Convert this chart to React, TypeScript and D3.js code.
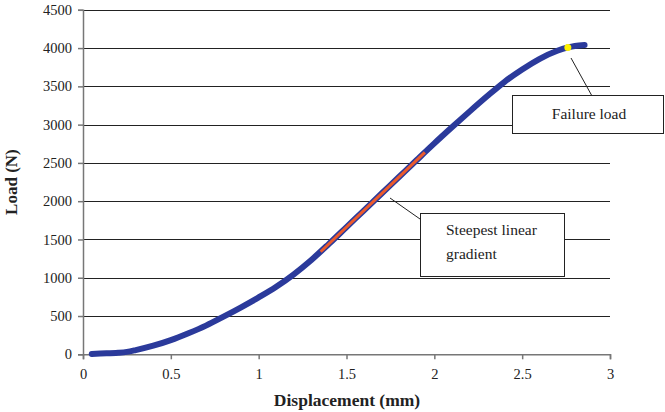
import React, { useEffect, useRef } from "react";
import * as d3 from "d3";

// displacement (mm) and load (N)
const displacement = [0.05, 0.1, 0.2, 0.25, 0.3, 0.4, 0.5, 0.6, 0.7, 0.8, 0.9, 1.0, 1.1, 1.2, 1.3, 1.4, 1.5, 1.6, 1.7, 1.8, 1.9, 2.0, 2.1, 2.2, 2.3, 2.4, 2.5, 2.6, 2.7, 2.76, 2.8, 2.855];
const load = [5, 10, 20, 32, 55, 112, 185, 275, 375, 492, 614, 743, 882, 1045, 1232, 1443, 1662, 1881, 2100, 2319, 2538, 2755, 2965, 3170, 3370, 3560, 3720, 3860, 3965, 4008, 4028, 4040];

// steepest linear section (start, end)
const gradientX = [1.353, 1.946];
const gradientY = [1340, 2638];

const failureX = 2.76;
const failureY = 4008;

const xTicks = [0, 0.5, 1, 1.5, 2, 2.5, 3];
const yTicks = [0, 500, 1000, 1500, 2000, 2500, 3000, 3500, 4000, 4500];

const App = () => {
  const svgRef = useRef<SVGSVGElement>(null);

  useEffect(() => {
    const svg = d3.select(svgRef.current);
    svg.selectAll("*").remove();

    const left = 83;
    const right = 610;
    const top = 9.8;
    const bottom = 354.3;
    const font = "'Times New Roman', 'Liberation Serif', serif";

    const x = d3.scaleLinear().domain([0, 3]).range([left, right]);
    const y = d3.scaleLinear().domain([0, 4500]).range([bottom, top]);

    // horizontal grid lines
    svg
      .append("g")
      .selectAll("line")
      .data(yTicks.slice(1))
      .join("line")
      .attr("x1", left)
      .attr("x2", right)
      .attr("y1", (d) => Math.round(y(d)) + 0.5)
      .attr("y2", (d) => Math.round(y(d)) + 0.5)
      .attr("stroke", "#222")
      .attr("stroke-width", 1.2);

    // y axis
    const yAxis = svg
      .append("g")
      .attr("transform", `translate(${left},0)`)
      .call(d3.axisLeft(y).tickValues(yTicks).tickSize(5).tickPadding(6).tickFormat(d3.format("d")));
    yAxis.attr("font-family", font);
    yAxis.select(".domain").attr("stroke", "#777").attr("stroke-width", 1.5);
    yAxis.selectAll(".tick line").attr("stroke", "#777").attr("stroke-width", 1.5);
    yAxis.selectAll(".tick text").attr("font-size", 14.5).attr("fill", "#222");

    // x axis
    const xAxis = svg
      .append("g")
      .attr("transform", `translate(0,${bottom})`)
      .call(d3.axisBottom(x).tickValues(xTicks).tickSize(5).tickPadding(9).tickFormat((d) => String(d)));
    xAxis.attr("font-family", font);
    xAxis.select(".domain").attr("stroke", "#777").attr("stroke-width", 1.5);
    xAxis.selectAll(".tick line").attr("stroke", "#777").attr("stroke-width", 1.5);
    xAxis.selectAll(".tick text").attr("font-size", 14.5).attr("fill", "#222");

    // load-displacement curve
    const points = displacement.map((d, i) => [d, load[i]] as [number, number]);
    const line = d3
      .line<[number, number]>()
      .x((d) => x(d[0]))
      .y((d) => y(d[1]))
      .curve(d3.curveMonotoneX);

    svg
      .append("path")
      .datum(points)
      .attr("d", line)
      .attr("fill", "none")
      .attr("stroke", "#2b3a9b")
      .attr("stroke-width", 6)
      .attr("stroke-linecap", "round")
      .attr("stroke-linejoin", "round");

    // steepest gradient segment
    svg
      .append("line")
      .attr("x1", x(gradientX[0]))
      .attr("y1", y(gradientY[0]))
      .attr("x2", x(gradientX[1]))
      .attr("y2", y(gradientY[1]))
      .attr("stroke", "#ec5a2c")
      .attr("stroke-width", 3);

    // failure point
    svg
      .append("circle")
      .attr("cx", x(failureX))
      .attr("cy", y(failureY))
      .attr("r", 3.5)
      .attr("fill", "#fff200");

    // callouts
    const leader = (x1: number, y1: number, x2: number, y2: number) =>
      svg
        .append("line")
        .attr("x1", x1)
        .attr("y1", y1)
        .attr("x2", x2)
        .attr("y2", y2)
        .attr("stroke", "#222")
        .attr("stroke-width", 1);

    leader(571, 58, 592, 96);
    svg
      .append("rect")
      .attr("x", 512.5)
      .attr("y", 95.5)
      .attr("width", 151)
      .attr("height", 38)
      .attr("fill", "white")
      .attr("stroke", "#222");
    svg
      .append("text")
      .attr("x", 589)
      .attr("y", 119)
      .attr("text-anchor", "middle")
      .attr("font-family", font)
      .attr("font-size", 15.5)
      .attr("fill", "#222")
      .text("Failure load");

    leader(390, 198, 420, 219);
    svg
      .append("rect")
      .attr("x", 420.5)
      .attr("y", 213.5)
      .attr("width", 144)
      .attr("height", 63)
      .attr("fill", "white")
      .attr("stroke", "#222");
    const gt = svg
      .append("text")
      .attr("font-family", font)
      .attr("font-size", 15.5)
      .attr("fill", "#222");
    gt.append("tspan").attr("x", 446).attr("y", 235).text("Steepest linear");
    gt.append("tspan").attr("x", 446).attr("y", 259).text("gradient");

    // axis titles
    svg
      .append("text")
      .attr("transform", `translate(17,${(top + bottom) / 2}) rotate(-90)`)
      .attr("text-anchor", "middle")
      .attr("font-family", font)
      .attr("font-weight", "bold")
      .attr("font-size", 17)
      .attr("fill", "#222")
      .text("Load (N)");

    svg
      .append("text")
      .attr("x", 347)
      .attr("y", 406)
      .attr("text-anchor", "middle")
      .attr("font-family", font)
      .attr("font-weight", "bold")
      .attr("font-size", 17.5)
      .attr("fill", "#222")
      .text("Displacement (mm)");
  }, []);

  return (
    <svg
      ref={svgRef}
      width={665}
      height={412}
      style={{ position: "absolute", left: 0, top: 0, background: "white" }}
    />
  );
};

export default App;
